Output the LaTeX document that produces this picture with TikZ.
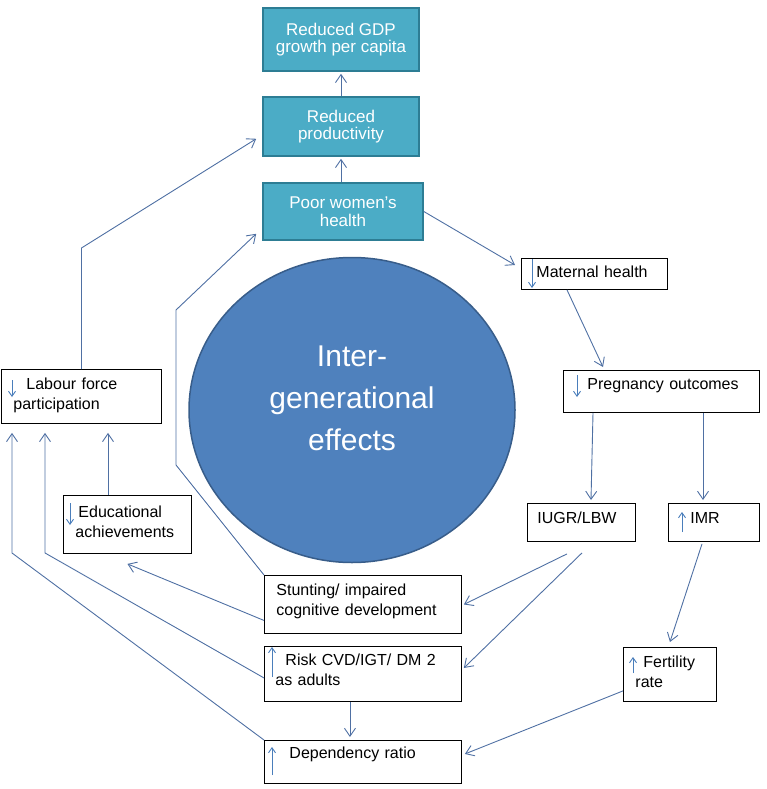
\documentclass[tikz,border=0pt]{standalone}
\usepackage{fontspec}
\setmainfont{Liberation Sans}
\usetikzlibrary{arrows.meta,shapes.geometric}
\definecolor{tealfill}{RGB}{75,172,198}
\definecolor{tealline}{RGB}{45,125,148}
\definecolor{bubblefill}{RGB}{79,129,189}
\definecolor{bubbleline}{RGB}{56,93,138}
\definecolor{linkblue}{RGB}{79,112,163}
\definecolor{markblue}{RGB}{74,126,187}
\newcommand{\tgap}[1]{\rule{0pt}{#1pt}}
\newcommand{\bgap}[1]{\rule[-#1pt]{0pt}{#1pt}}

\begin{document}
\begin{tikzpicture}[x=1pt,y=-1pt,
  topbox/.style={draw=tealline, line width=1.6pt, fill=tealfill, text=white, align=center,
    font=\fontsize{17}{17.5}\selectfont, inner sep=0pt},
  effbox/.style={draw=black, line width=0.9pt, fill=white, anchor=north west, align=left,
    font=\fontsize{16}{20}\selectfont, inner ysep=0pt},
  bubble/.style={ellipse, draw=bubbleline, line width=1.5pt, fill=bubblefill,
    minimum width=326pt, minimum height=305pt, inner sep=0pt},
  bubtext/.style={text=white, align=center, font=\fontsize{30}{42}\selectfont, inner sep=0pt},
  link/.style={draw=linkblue, line width=0.9pt, -{Straight Barb[length=8pt,width=11pt]}},
  updown/.style={draw=markblue, line width=0.9pt, -{Straight Barb[length=5pt,width=7pt]}}]
\useasboundingbox (0,0) rectangle (767,789);

% Draw the big circle in the middle
\node[bubble] (circ) at (352,410) {};
\node[bubtext] (circtext) at (352,398) {Inter-\\generational\\effects};

% Draw the three boxes at the top
\node[topbox, minimum width=156pt, minimum height=63pt] (gdp) at (341,39.5) {Reduced GDP\\growth per capita};
\node[topbox, minimum width=156pt, minimum height=59pt] (prod) at (341,126.5) {Reduced\\productivity};
\node[topbox, minimum width=160pt, minimum height=57pt] (poor) at (343,211.5) {Poor women’s\\health};

% Draw the effect boxes around the circle
\node[effbox, text width=116pt, inner xsep=15pt] (mat) at (521,258) {\tgap{19}Maternal health\bgap{12}};
\node[effbox, text width=172pt, inner xsep=12pt] (preg) at (563,370) {\tgap{19}\hspace*{12pt}Pregnancy outcomes\bgap{23}};
\node[effbox, text width=88pt, inner xsep=10pt] (iugr) at (527,503) {\tgap{20}IUGR/LBW\bgap{18}};
\node[effbox, text width=71pt, inner xsep=10pt] (imr) at (668,503) {\tgap{20}\hspace*{12pt}IMR\bgap{18}};
\node[effbox, text width=69pt, inner xsep=12pt] (fert) at (623,647) {\tgap{20}\hspace*{8pt}Fertility\\rate\bgap{14}};
\node[effbox, text width=173pt, inner xsep=12pt] (stunt) at (264,575) {\tgap{20}Stunting/ impaired\\cognitive development\bgap{18}};
\node[effbox, text width=175pt, inner xsep=11pt] (risk) at (264,646) {\tgap{19}\hspace*{10pt}Risk CVD/IGT/ DM 2\\as adults\bgap{16}};
\node[effbox, text width=173pt, inner xsep=12pt] (dep) at (264,740) {\tgap{18}\hspace*{13pt}Dependency ratio\bgap{25}};
\node[effbox, text width=104pt, inner xsep=12pt] (edu) at (63,495) {\tgap{22}\hspace*{3pt}Educational\\achievements\bgap{16}};
\node[effbox, text width=136pt, inner xsep=12pt] (lab) at (1,369) {\tgap{20}\hspace*{13pt}Labour force\\participation\bgap{14}};

% small up and down marks
\draw[updown] ([shift={(11,1)}]mat.north west) -- ++(0,29);
\draw[updown] ([shift={(14,5)}]preg.north west) -- ++(0,22);
\draw[updown] ([shift={(14,29)}]imr.north west) -- ++(0,-20);
\draw[updown] ([shift={(10,26)}]fert.north west) -- ++(0,-16);
\draw[updown] ([shift={(8,31)}]risk.north west) -- ++(0,-30);
\draw[updown] ([shift={(8,35)}]dep.north west) -- ++(0,-28);
\draw[updown] ([shift={(7,8)}]edu.north west) -- ++(0,22);
\draw[updown] ([shift={(11,11)}]lab.north west) -- ++(0,17);

% Draw the arrows
\draw[link, shorten >=2pt] (prod.north) -- (gdp.south);
\draw[link, shorten >=2pt] (poor.north -| prod.south) -- (prod.south);
\draw[link] (poor.east) -- ([shift={(-6,7)}]mat.north west);
\draw[link] ([shift={(46,0)}]mat.south west) -- ([shift={(40,-3)}]preg.north west);
\draw[link] ([shift={(30,0)}]preg.south west) -- ([shift={(64,-3)}]iugr.north west);
\draw[link] ([shift={(140,0)}]preg.south west) -- ([shift={(35,-3)}]imr.north west);
\draw[link] ([shift={(34,2)}]imr.south west) -- ([shift={(0,-5)}]fert.north);
\draw[link] ([shift={(0,-11)}]fert.south west) -- ([shift={(3,-8)}]dep.east);
\draw[link] ([shift={(40,12)}]iugr.south west) -- ([shift={(2,0)}]stunt.east);
\draw[link] ([shift={(55,11)}]iugr.south west) -- ([shift={(2,-6)}]risk.east);
\draw[link] ([shift={(-13,0)}]risk.south) -- ([shift={(-13,-3)}]dep.north);
\draw[link] ([shift={(0,16)}]stunt.west) -- ([shift={(0,10)}]edu.south);
\draw[link] (stunt.north west) -- ++(-88,-110) -- ++(0,-155) -- ([shift={(-6,-7)}]poor.south west);
\draw[link] ([shift={(45,0)}]edu.north west) -- ([shift={(107,9)}]lab.south west);
\draw[link] ([shift={(0,4)}]risk.west) -- ++(-219,-125) -- ([shift={(44,9)}]lab.south west);
\draw[link] (dep.north west) -- ++(-252,-187) -- ([shift={(11,9)}]lab.south west);
\draw[link] (lab.north) -- ++(0,-121) -- ([shift={(-6,-18)}]prod.south west);
\end{tikzpicture}
\end{document}
